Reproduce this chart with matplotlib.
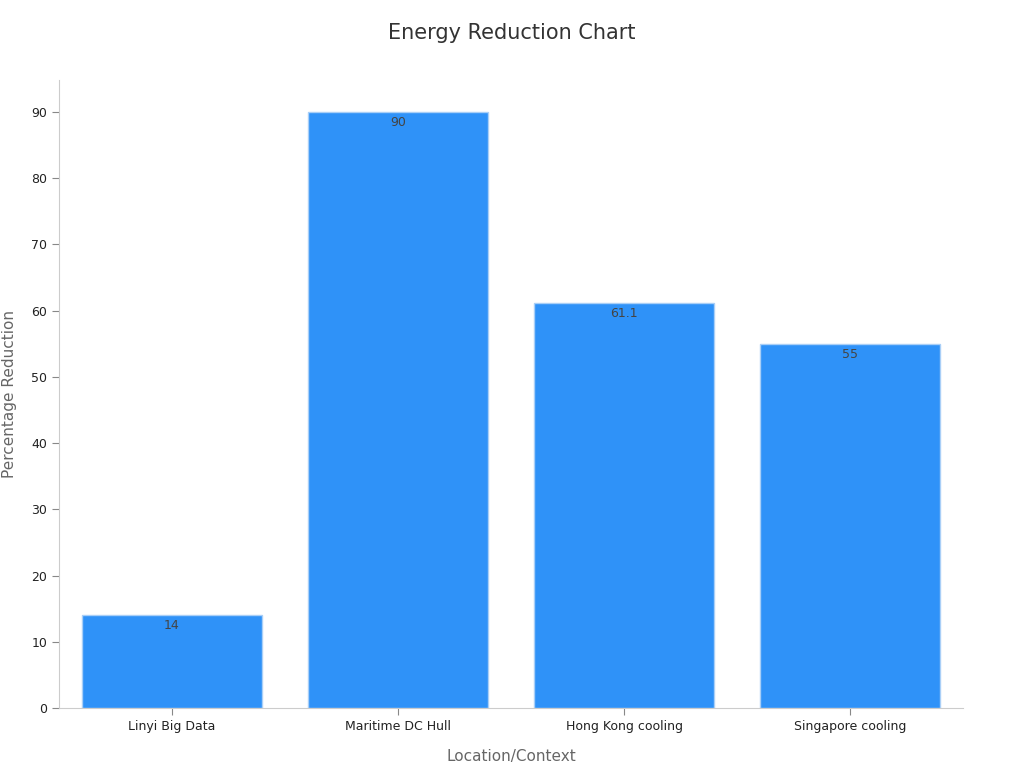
import matplotlib
matplotlib.use("Agg")
import matplotlib.pyplot as plt

categories = ["Linyi Big Data", "Maritime DC Hull", "Hong Kong cooling", "Singapore cooling"]
values = [14, 90, 61.1, 55]
labels = ["14", "90", "61.1", "55"]

fig = plt.figure(figsize=(10.24, 7.68), dpi=100)
ax = fig.add_axes([59/1024, 60/768, 904/1024, 628/768])
x = range(len(categories))
bars = ax.bar(x, values, width=0.8, color="#2F92F8", edgecolor="#A9CFF7", linewidth=1)
for b, lab in zip(bars, labels):
    ax.text(b.get_x() + b.get_width()/2, b.get_height() - 0.6, lab, ha="center", va="top",
            fontsize=9, color="#444444")
ax.set_xlim(-0.5, 3.5)
ax.set_ylim(0, 94.8)
ax.set_yticks(range(0, 91, 10))
ax.set_xticks(list(x))
ax.set_xticklabels(categories)
ax.tick_params(labelsize=9, colors="#222222")
ax.tick_params(axis="both", color="#888888", length=5)
for s in ["top", "right"]:
    ax.spines[s].set_visible(False)
ax.spines["left"].set_color("#CCCCCC")
ax.spines["bottom"].set_color("#CCCCCC")
ax.set_xlabel("Location/Context", fontsize=11, color="#666666", labelpad=12)
ax.set_ylabel("Percentage Reduction", fontsize=11, color="#666666", labelpad=10)
fig.suptitle("Energy Reduction Chart", fontsize=15, color="#333333", y=0.97)
fig.savefig("out.png", dpi=100)
